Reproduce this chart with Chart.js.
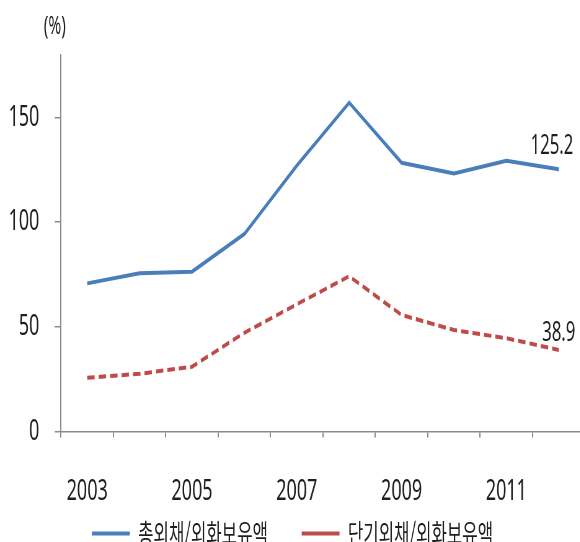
<!DOCTYPE html>
<html lang="ko">
<head>
<meta charset="utf-8">
<title>총외채/외화보유액</title>
<style>
  html, body { margin: 0; padding: 0; background: #fff; overflow: hidden; }
  /* chart is laid out wide, then squeezed horizontally */
  #wrap { width: 950px; height: 542px; transform: scaleX(0.62); transform-origin: 0 0; }
</style>
</head>
<body>
<div id="wrap"><canvas id="ratioChart" width="950" height="542"></canvas></div>
<script src="https://cdn.jsdelivr.net/npm/chart.js@4.4.1/dist/chart.umd.min.js"></script>
<script>
// years on the x axis
var years = ['2003', '2004', '2005', '2006', '2007', '2008', '2009', '2010', '2011', '2012'];
// 총외채/외화보유액 (%)
var totalDebt = [70.7, 75.5, 76.3, 94.3, 126.9, 157.0, 128.3, 123.2, 129.3, 125.2];
// 단기외채/외화보유액 (%)
var shortDebt = [25.6, 27.5, 30.9, 47.1, 60.7, 74.1, 55.6, 48.4, 44.5, 38.9];
var yTicks = [0, 50, 100, 150];

var digitFont = '"Noto Sans", sans-serif';
var axisGray = '#8a8a8a';
// where the end-of-line value sits relative to the last point
var endLabelShift = [[-11, -23], [0, -17]];

var labelPlugin = {
  id: 'valueLabels',
  afterDatasetsDraw: function (chart) {
    var ctx = chart.ctx;
    ctx.save();
    ctx.fillStyle = '#1e1e1e';
    ctx.textAlign = 'center';
    ctx.textBaseline = 'middle';
    ctx.font = '27px ' + digitFont;
    chart.data.datasets.forEach(function (ds, i) {
      var pts = chart.getDatasetMeta(i).data;
      var last = pts[pts.length - 1];
      var v = ds.data[ds.data.length - 1];
      ctx.fillText(v.toFixed(1), last.x + endLabelShift[i][0], last.y + endLabelShift[i][1]);
    });
    // unit above the value axis
    ctx.font = '25px ' + digitFont;
    ctx.fillText('(%)', chart.chartArea.left - 10, 27);
    ctx.restore();
  }
};

new Chart(document.getElementById('ratioChart'), {
  type: 'line',
  data: {
    labels: years,
    datasets: [{
      label: '총외채/외화보유액',
      data: totalDebt,
      borderColor: '#4a7ebb',
      backgroundColor: '#4a7ebb',
      borderWidth: 4,
      pointRadius: 0,
      tension: 0
    }, {
      label: '단기외채/외화보유액',
      data: shortDebt,
      borderColor: '#be4b48',
      backgroundColor: '#be4b48',
      borderWidth: 4,
      borderDash: [12, 6.5],
      pointRadius: 0,
      tension: 0
    }]
  },
  options: {
    responsive: false,
    animation: false,
    layout: { padding: { top: 54.5, left: 0, right: 6.5, bottom: -15 } },
    scales: {
      x: {
        offset: true,
        grid: { offset: true, drawOnChartArea: false, tickLength: 6, color: axisGray, lineWidth: 2 },
        border: { color: axisGray, width: 1.5 },
        ticks: {
          autoSkip: false,
          maxRotation: 0,
          padding: 39.6,
          color: '#1e1e1e',
          font: { family: digitFont, size: 29, lineHeight: 1 },
          callback: function (val, i) { return i % 2 === 0 ? this.getLabelForValue(val) : ''; }
        },
        afterFit: function (s) { s.height = 74.6; }
      },
      y: {
        min: 0,
        max: 180,
        grid: { drawOnChartArea: false, tickLength: 10, color: axisGray, lineWidth: 1.5 },
        border: { color: axisGray, width: 2 },
        ticks: { padding: 25, color: '#1e1e1e', font: { family: digitFont, size: 29 } },
        afterBuildTicks: function (s) { s.ticks = yTicks.map(function (v) { return { value: v }; }); },
        afterFit: function (s) { s.width = 98.4; }
      }
    },
    plugins: {
      tooltip: { enabled: false },
      legend: {
        position: 'bottom',
        labels: {
          usePointStyle: true,
          pointStyle: 'line',
          pointStyleWidth: 61,
          padding: 14,
          color: '#1e1e1e',
          font: { family: "'Noto Sans CJK KR', sans-serif", size: 27 },
          // wider gap between the two entries
          generateLabels: function (chart) {
            var items = Chart.defaults.plugins.legend.labels.generateLabels(chart);
            items[0].text += '\u2002\u2002\u2002';
            return items;
          }
        }
      }
    }
  },
  plugins: [labelPlugin]
});
</script>
</body>
</html>
